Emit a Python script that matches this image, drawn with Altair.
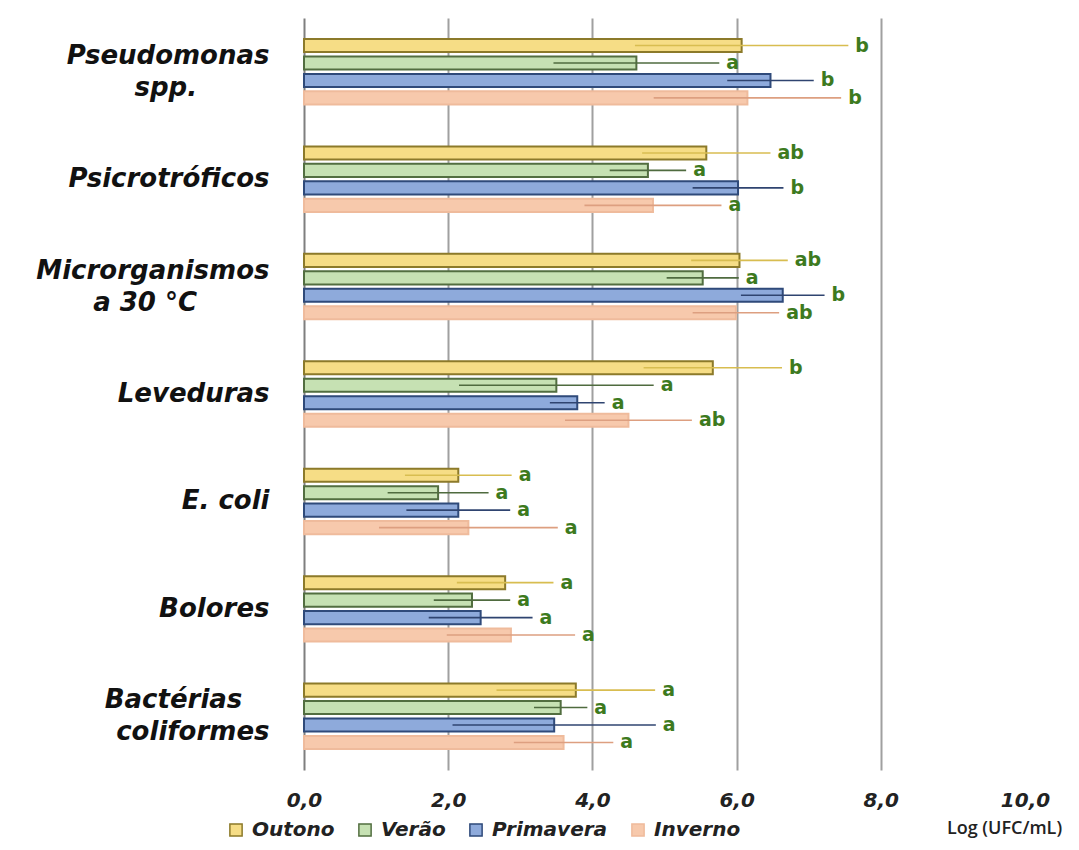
import altair as alt
import pandas as pd

NB = "\u00a0"
ZW = "\u200b"
categories = ["Pseudomonas|spp." + NB * 8 + ZW, "Psicrotróficos",
              "Microrganismos|a 30 °C" + NB * 8 + ZW,
              "Leveduras", "E. coli", "Bolores", "Bactérias" + NB * 3 + ZW + "|coliformes"]
seasons = ["Outono", "Verão", "Primavera", "Inverno"]

outono = [6.07, 5.58, 6.04, 5.67, 2.14, 2.79, 3.77]
verao = [4.61, 4.77, 5.53, 3.50, 1.86, 2.33, 3.56]
primavera = [6.47, 6.02, 6.64, 3.79, 2.14, 2.45, 3.47]
inverno = [6.15, 4.84, 5.99, 4.50, 2.28, 2.87, 3.60]

outono_sd = [1.48, 0.89, 0.67, 0.96, 0.74, 0.67, 1.10]
verao_sd = [1.15, 0.53, 0.50, 1.35, 0.70, 0.53, 0.37]
primavera_sd = [0.60, 0.63, 0.58, 0.38, 0.72, 0.72, 1.41]
inverno_sd = [1.30, 0.95, 0.60, 0.88, 1.24, 0.89, 0.69]

outono_let = ["b", "ab", "ab", "b", "a", "a", "a"]
verao_let = ["a", "a", "a", "a", "a", "a", "a"]
primavera_let = ["b", "b", "b", "a", "a", "a", "a"]
inverno_let = ["b", "a", "ab", "ab", "a", "a", "a"]

fill_colors = ["#f6dd86", "#c6e1b3", "#8eaadb", "#f7c9ac"]
stroke_colors = ["#8c7a2a", "#526e40", "#2f4a7a", "#efbb9c"]
err_colors = ["#d8bd50", "#4f6b3f", "#2f4470", "#dd9f80"]

means = [outono, verao, primavera, inverno]
sds = [outono_sd, verao_sd, primavera_sd, inverno_sd]
lets = [outono_let, verao_let, primavera_let, inverno_let]

rows = []
for si, s in enumerate(seasons):
    for ci, c in enumerate(categories):
        m = means[si][ci]
        sd = sds[si][ci]
        rows.append({"cat": c, "season": s, "mean": m, "lo": m - sd, "hi": m + sd,
                     "letter": lets[si][ci], "ecolor": err_colors[si]})
df = pd.DataFrame(rows)

FONT = "DejaVu Sans"
FONT2 = "Open Sans"

y_enc = alt.Y("cat:N", sort=categories,
              scale=alt.Scale(paddingInner=0.35, paddingOuter=0.175),
              axis=alt.Axis(title=None, ticks=False, domain=True, domainColor="#7f7f7f",
                            domainWidth=2, labelExpr="split(datum.label, '|')",
                            labelFont=FONT, labelFontSize=26, labelFontStyle="italic",
                            labelFontWeight="bold", labelColor="#111111",
                            labelPadding=35, labelLineHeight=32, labelAlign="right",
                            labelBaseline="middle", labelLimit=400,
                            labelOffset={"condition": {"test": "indexof(datum.label, '|') >= 0",
                                                       "value": -16},
                                         "value": 0}))
yoff = alt.YOffset("season:N", sort=seasons,
                   scale=alt.Scale(paddingInner=0.25, paddingOuter=0.125))

x_scale = alt.Scale(domain=[0, 10], nice=False)

base = alt.Chart(df)

bars = base.mark_bar(strokeWidth=2).encode(
    x=alt.X("mean:Q", scale=x_scale,
            axis=alt.Axis(values=[0, 2, 4, 6, 8, 10], ticks=False, domain=False,
                          grid=True, labelFlush=False,
                          gridColor={"condition": {"test": "datum.value === 10 || datum.value === 0",
                                                   "value": "transparent"},
                                     "value": "#a0a0a0"},
                          gridWidth=2,
                          labelExpr="replace(format(datum.value, '.1f'), '.', ',')",
                          labelFont=FONT, labelFontSize=20, labelFontStyle="italic",
                          labelFontWeight="bold", labelColor="#222222", labelPadding=20,
                          title="Log (UFC/mL)", titleFont=FONT2, titleFontSize=18,
                          titleFontWeight=600, titleColor="#222222",
                          titleX=700, titleY=58, titleAlign="center",
                          titleBaseline="middle")),
    y=y_enc,
    yOffset=yoff,
    fill=alt.Fill("season:N", sort=seasons,
                  scale=alt.Scale(domain=seasons, range=fill_colors),
                  legend=alt.Legend(title=None, orient="none", direction="horizontal",
                                    legendX=-78, legendY=802, symbolType="square",
                                    symbolSize=150, symbolStrokeWidth=1.5,
                                    labelFont=FONT, labelFontSize=20,
                                    labelFontStyle="italic", labelFontWeight="bold",
                                    labelColor="#222222", columnPadding=20,
                                    labelOffset=6)),
    stroke=alt.Stroke("season:N", sort=seasons,
                      scale=alt.Scale(domain=seasons, range=stroke_colors)),
)

errs = base.mark_rule(strokeWidth=1.6).encode(
    x=alt.X("lo:Q", scale=x_scale),
    x2="hi:Q",
    y=alt.Y("cat:N", sort=categories),
    yOffset=yoff,
    color=alt.Color("ecolor:N", scale=None),
)

letters = base.mark_text(align="left", baseline="middle", dx=7, font=FONT,
                         fontSize=19, fontWeight="bold", color="#3d7a1e").encode(
    x=alt.X("hi:Q", scale=x_scale),
    y=alt.Y("cat:N", sort=categories),
    yOffset=yoff,
    text="letter:N",
)

chart = alt.layer(bars, errs, letters).properties(
    width=721, height=752,
    autosize=alt.AutoSizeParams(type="none"),
    padding={"left": 296, "top": 10, "right": 46, "bottom": 70},
).configure_view(stroke=None)

chart.save("out.html", embed_options={"renderer": "svg", "actions": False})
